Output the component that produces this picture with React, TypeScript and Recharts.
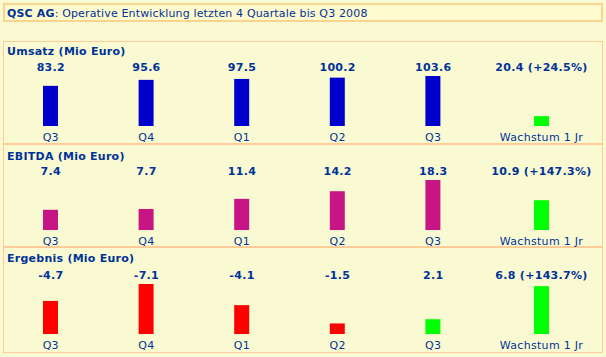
import React from 'react'
import { BarChart, Bar, XAxis, YAxis, Cell } from 'recharts'

const quarters = ['Q3', 'Q4', 'Q1', 'Q2', 'Q3']
const growthLabel = 'Wachstum 1 Jr'

const umsatz = [83.2, 95.6, 97.5, 100.2, 103.6]
const ebitda = [7.4, 7.7, 11.4, 14.2, 18.3]
const ergebnis = [-4.7, -7.1, -4.1, -1.5, 2.1]

const growthValues = [20.4, 10.9, 6.8]
const growthPercents = [24.5, 147.3, 143.7]

const panelTitles = ['Umsatz (Mio Euro)', 'EBITDA (Mio Euro)', 'Ergebnis (Mio Euro)']

const FONT = '"DejaVu Sans", Verdana, sans-serif'
const TEXT_BLUE = '#003399'
const BG = '#FAFAD2'
const BORDER = '#FFCC99'
const GREEN = '#00FF00'

interface PanelProps {
  title: string
  values: number[]
  growth: number
  pct: number
  posColor: string
  negColor: string
  top: number
  height: number
  titleTop: number
  chartTop: number
}

function Panel({ title, values, growth, pct, posColor, negColor, top, height, titleTop, chartTop }: PanelProps) {
  const quarterRows = values.map((v, i) => ({
    cat: quarters[i],
    label: v.toFixed(1),
    abs: Math.abs(v),
    color: v < 0 ? negColor : posColor
  }))
  const growthRows = [{
    cat: growthLabel,
    label: `${growth.toFixed(1)} (+${pct.toFixed(1)}%)`,
    abs: Math.abs(growth),
    color: GREEN
  }]
  const maxAbs = Math.max(...quarterRows.map(r => r.abs), growthRows[0].abs)

  const renderChart = (rows: any[], left: number, width: number) => (
    <div style={{ position: 'absolute', left, top: chartTop, width, height: 105 }}>
      <BarChart width={width} height={105} data={rows} margin={{ top: 0, right: 0, bottom: 0, left: 0 }} barSize={15}>
        <XAxis
          xAxisId="top"
          orientation="top"
          dataKey="label"
          height={35}
          axisLine={false}
          tickLine={false}
          tickSize={3}
          tickMargin={2}
          interval={0}
          tick={{ fill: TEXT_BLUE, fontSize: 11, fontWeight: 'bold', fontFamily: FONT, letterSpacing: 0.3 }}
        />
        <XAxis
          xAxisId="bottom"
          dataKey="cat"
          height={20}
          axisLine={false}
          tickLine={false}
          tickSize={5}
          tickMargin={2}
          interval={0}
          tick={{ fill: TEXT_BLUE, fontSize: 11, fontFamily: FONT, letterSpacing: 0.3 }}
        />
        <YAxis hide domain={[0, maxAbs]} allowDataOverflow />
        <Bar xAxisId="bottom" dataKey="abs" isAnimationActive={false}>
          {rows.map((r, i) => (
            <Cell key={`c-${i}`} fill={r.color} />
          ))}
        </Bar>
      </BarChart>
    </div>
  )

  return (
    <>
      <div style={{
        position: 'absolute', left: 3, top, width: 600, height,
        boxSizing: 'border-box', border: `1px solid ${BORDER}`
      }} />
      <div style={{
        position: 'absolute', left: 7, top: titleTop, fontFamily: FONT, fontSize: 11,
        lineHeight: '13px', fontWeight: 'bold', color: TEXT_BLUE, whiteSpace: 'nowrap', letterSpacing: 0.25
      }}>
        {title}
      </div>
      {renderChart(quarterRows, 3, 478)}
      {renderChart(growthRows, 481, 121)}
    </>
  )
}

export default function App() {
  return (
    <div style={{ position: 'fixed', left: 0, top: 0, width: 606, height: 357, background: BG, overflow: 'hidden' }}>
      {/* title box */}
      <div style={{
        position: 'absolute', left: 3, top: 3, width: 600, height: 19, boxSizing: 'border-box',
        border: '2px solid #F8D48F', background: '#FFFACD'
      }} />
      <div style={{
        position: 'absolute', left: 7, top: 6.5, fontFamily: FONT, fontSize: 11, lineHeight: '13px',
        color: TEXT_BLUE, whiteSpace: 'nowrap', letterSpacing: 0.15
      }}>
        <b>QSC AG</b>: Operative Entwicklung letzten 4 Quartale bis Q3 2008
      </div>

      <Panel title={panelTitles[0]} values={umsatz} growth={growthValues[0]} pct={growthPercents[0]}
        posColor="#0000CC" negColor="#FF0000" top={41} height={103} titleTop={45} chartTop={41} />
      <Panel title={panelTitles[1]} values={ebitda} growth={growthValues[1]} pct={growthPercents[1]}
        posColor="#C71585" negColor="#FF0000" top={144} height={103} titleTop={149.5} chartTop={145} />
      <Panel title={panelTitles[2]} values={ergebnis} growth={growthValues[2]} pct={growthPercents[2]}
        posColor={GREEN} negColor="#FF0000" top={247} height={106} titleTop={252} chartTop={249} />
    </div>
  )
}
